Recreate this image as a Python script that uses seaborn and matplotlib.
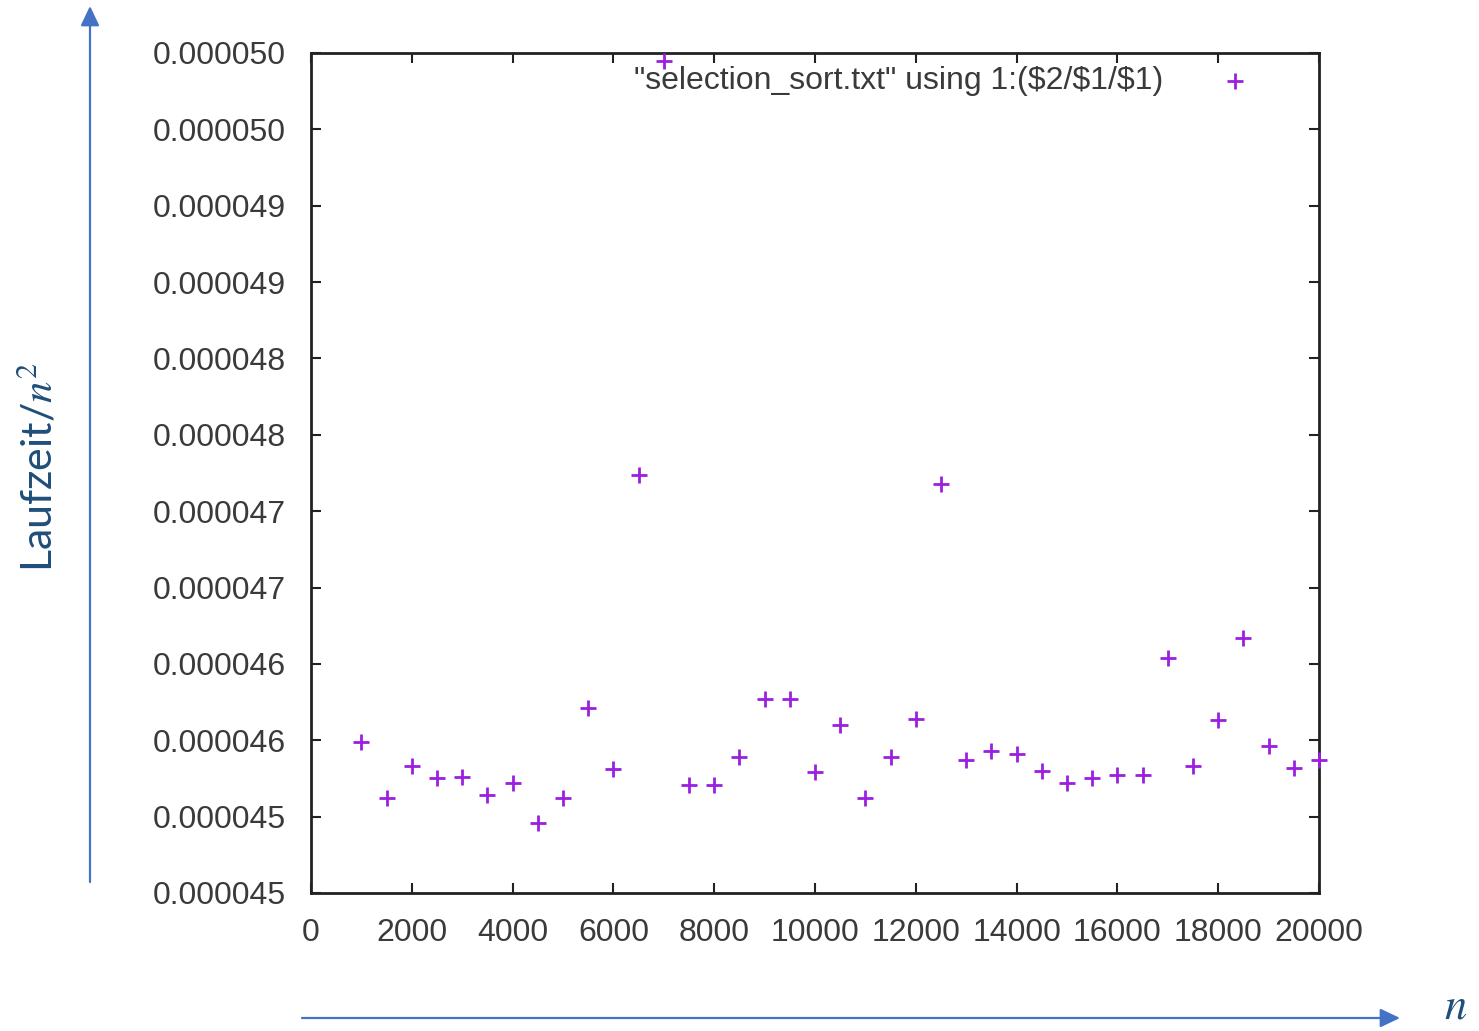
#Recreating the gnuplot chart of selection sort runtime divided by n^2

import matplotlib
matplotlib.use('Agg')
import matplotlib.pyplot as plt
import seaborn as sns


#values
n_values = [1000, 1500, 2000, 2500, 3000, 3500, 4000, 4500, 5000, 5500,
            6000, 6500, 7000, 7500, 8000, 8500, 9000, 9500, 10000, 10500,
            11000, 11500, 12000, 12500, 13000, 13500, 14000, 14500, 15000, 15500,
            16000, 16500, 17000, 17500, 18000, 18500, 19000, 19500, 20000]
time_per_n2 = [4.599e-5, 4.562e-5, 4.583e-5, 4.575e-5, 4.576e-5, 4.564e-5, 4.572e-5, 4.546e-5, 4.562e-5, 4.621e-5,
               4.581e-5, 4.774e-5, 5.045e-5, 4.571e-5, 4.571e-5, 4.589e-5, 4.627e-5, 4.627e-5, 4.579e-5, 4.610e-5,
               4.562e-5, 4.589e-5, 4.614e-5, 4.768e-5, 4.587e-5, 4.593e-5, 4.591e-5, 4.580e-5, 4.572e-5, 4.575e-5,
               4.577e-5, 4.577e-5, 4.654e-5, 4.583e-5, 4.613e-5, 4.667e-5, 4.596e-5, 4.582e-5, 4.587e-5]

x_ticks = [0, 2000, 4000, 6000, 8000, 10000, 12000, 14000, 16000, 18000, 20000]
y_ticks = [4.50e-5, 4.55e-5, 4.60e-5, 4.65e-5, 4.70e-5, 4.75e-5,
           4.80e-5, 4.85e-5, 4.90e-5, 4.95e-5, 5.00e-5, 5.05e-5]
y_tick_labels = ['0.000045', '0.000045', '0.000046', '0.000046', '0.000047', '0.000047',
                 '0.000048', '0.000048', '0.000049', '0.000049', '0.000050', '0.000050']
legend_label = '"selection_sort.txt" using 1:($2/$1/$1)'


sns.set_style('ticks')
plt.rcParams['font.family'] = ['Liberation Sans', 'DejaVu Sans']
plt.rcParams['mathtext.fontset'] = 'stix'

W, H = 1479, 1031
fig = plt.figure(figsize=(W / 100, H / 100), dpi=100)
ax = fig.add_axes([311 / W, 1 - 893 / H, (1319 - 311) / W, (893 - 53) / H])

#the data points
sns.scatterplot(x=n_values, y=time_per_n2, marker='+', s=130, color='#9b1fe0',
                linewidth=2, label=legend_label, ax=ax, clip_on=False, zorder=3)

ax.set_xlim(0, 20000)
ax.set_ylim(4.50e-5, 5.05e-5)
ax.set_xticks(x_ticks)
ax.set_xticklabels([str(t) for t in x_ticks])
ax.set_yticks(y_ticks)
ax.set_yticklabels(y_tick_labels)

tick_col = '#3a3a3a'
ax.tick_params(direction='in', length=7, width=1.5, top=True, right=True,
               labelsize=23, labelcolor=tick_col, color='#222222')
ax.tick_params(axis='x', pad=18)
ax.tick_params(axis='y', pad=18)
for sp in ax.spines.values():
    sp.set_linewidth(2)
    sp.set_color('#222222')

#legend like gnuplot: text first, marker at the right
leg = ax.legend(loc='upper right', markerfirst=False, frameon=False, fontsize=23,
                handlelength=2, handletextpad=1.25, borderpad=0, borderaxespad=0,
                bbox_to_anchor=((1267 - 311) / 1008, 1 - 13 / 840))
for t in leg.get_texts():
    t.set_color(tick_col)

#blue arrows and axis names around the plot
arrow_col = '#4472c4'
label_col = '#1f4e79'
arrow = dict(arrowstyle='-|>,head_length=0.8,head_width=0.38', color=arrow_col, lw=1.6,
             shrinkA=0, shrinkB=0, mutation_scale=15)
ax.annotate('', xy=(90, H - 6), xytext=(90, H - 882), xycoords='figure pixels',
            textcoords='figure pixels', arrowprops=arrow, annotation_clip=False)
ax.annotate('', xy=(1400, H - 1018), xytext=(302, H - 1018), xycoords='figure pixels',
            textcoords='figure pixels', arrowprops=arrow, annotation_clip=False)

fig.text(38 / W, 1 - 467 / H, 'Laufzeit/$n^2$', rotation=90, ha='center', va='center',
         fontsize=31, color=label_col, family=['Lato', 'DejaVu Sans'])
fig.text(1456 / W, 1 - 1007 / H, '$n$', ha='center', va='center',
         fontsize=32, color=label_col)

fig.savefig('out.png', dpi=100)
